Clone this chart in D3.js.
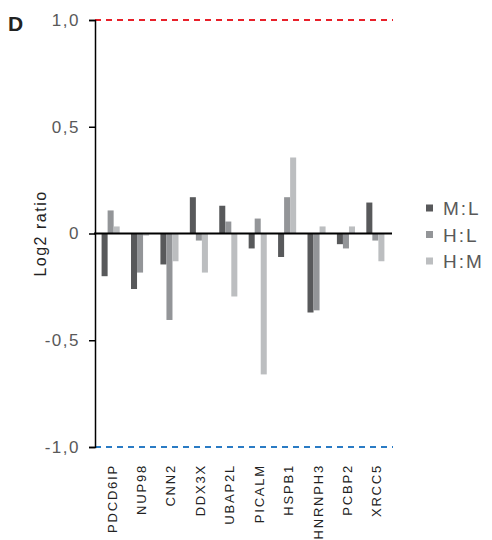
<!DOCTYPE html>
<html>
<head>
<meta charset="UTF-8">
<script src="https://d3js.org/d3.v7.min.js"></script>
<style>
  body { margin: 0; background: #fff; }
  svg { font-family: Arial, "Liberation Sans", sans-serif; }
</style>
</head>
<body>
<svg id="chart" width="492" height="540"></svg>
<script>
  const genes = ["PDCD6IP", "NUP98", "CNN2", "DDX3X", "UBAP2L", "PICALM", "HSPB1", "HNRNPH3", "PCBP2", "XRCC5"];
  const seriesNames = ["M:L", "H:L", "H:M"];
  const seriesColors = ["#58595b", "#939598", "#bcbec0"];
  const mlValues = [-0.20, -0.26, -0.145, 0.17, 0.13, -0.07, -0.11, -0.37, -0.05, 0.145];
  const hlValues = [0.108, -0.183, -0.405, -0.033, 0.056, 0.07, 0.17, -0.36, -0.07, -0.033];
  const hmValues = [0.033, -0.01, -0.13, -0.183, -0.295, -0.66, 0.356, 0.033, 0.033, -0.13];
  const yTicks = [1, 0.5, 0, -0.5, -1];
  const yTickLabels = ["1,0", "0,5", "0", "-0,5", "-1,0"];

  const series = [mlValues, hlValues, hmValues];
  const svg = d3.select("#chart");

  const y = d3.scaleLinear().domain([-1, 1]).range([447, 20]);
  const x = d3.scaleBand().domain(genes).range([96, 390]).paddingInner(0.385).paddingOuter(0.19);
  const xs = d3.scaleBand().domain(seriesNames).range([0, x.bandwidth()]);

  // dashed lines at +1 / -1
  svg.append("line").attr("x1", 95).attr("x2", 393).attr("y1", y(1)).attr("y2", y(1))
    .attr("stroke", "#e8202a").attr("stroke-width", 2).attr("stroke-dasharray", "6,5");
  svg.append("line").attr("x1", 95).attr("x2", 393).attr("y1", y(-1)).attr("y2", y(-1))
    .attr("stroke", "#2a7bc4").attr("stroke-width", 2).attr("stroke-dasharray", "6,5");

  // bars
  series.forEach((vals, si) => {
    svg.append("g").selectAll("rect")
      .data(vals)
      .enter()
      .append("rect")
      .attr("x", (d, i) => x(genes[i]) + xs(seriesNames[si]))
      .attr("width", xs.bandwidth())
      .attr("y", d => y(Math.max(0, d)))
      .attr("height", d => Math.abs(y(d) - y(0)))
      .attr("fill", seriesColors[si]);
  });

  // y axis
  const yAxis = d3.axisLeft(y).tickValues(yTicks).tickSize(6).tickPadding(9)
    .tickFormat((d, i) => yTickLabels[i]);
  const ya = svg.append("g").attr("transform", "translate(95,0)").call(yAxis);
  ya.select(".domain").attr("stroke", "#000").attr("stroke-width", 1.5);
  ya.selectAll(".tick line").attr("stroke", "#000").attr("stroke-width", 1.5);
  ya.selectAll(".tick text").attr("font-size", 17).attr("fill", "#595959")
    .attr("letter-spacing", 1.5)
    .attr("font-family", "Arial, 'Liberation Sans', sans-serif");

  // zero line
  svg.append("line").attr("x1", 94).attr("x2", 392).attr("y1", y(0)).attr("y2", y(0))
    .attr("stroke", "#000").attr("stroke-width", 2);

  // x labels
  svg.append("g").selectAll("text")
    .data(genes)
    .enter()
    .append("text")
    .attr("transform", d => `translate(${x(d) + x.bandwidth() / 2 + 6},464) rotate(-90)`)
    .attr("text-anchor", "end")
    .attr("font-size", 13)
    .attr("letter-spacing", 1.8)
    .attr("fill", "#222")
    .text(d => d);

  // y title
  svg.append("text")
    .attr("transform", `translate(46,${y(0)}) rotate(-90)`)
    .attr("text-anchor", "middle")
    .attr("font-size", 16)
    .attr("letter-spacing", 1.5)
    .attr("fill", "#222")
    .text("Log2 ratio");

  // panel letter
  svg.append("text").attr("x", 8).attr("y", 31)
    .attr("font-size", 21).attr("font-weight", "bold").attr("fill", "#222").text("D");

  // legend
  const legend = svg.append("g").selectAll("g")
    .data(seriesNames)
    .enter()
    .append("g")
    .attr("transform", (d, i) => `translate(426,${208 + i * 26.5})`);
  legend.append("rect").attr("x", 0).attr("y", -3.5).attr("width", 7).attr("height", 7)
    .attr("fill", (d, i) => seriesColors[i]);
  legend.append("text").attr("x", 17).attr("y", 7).attr("font-size", 19)
    .attr("letter-spacing", 2)
    .attr("fill", "#595959").text(d => d);
</script>
</body>
</html>
